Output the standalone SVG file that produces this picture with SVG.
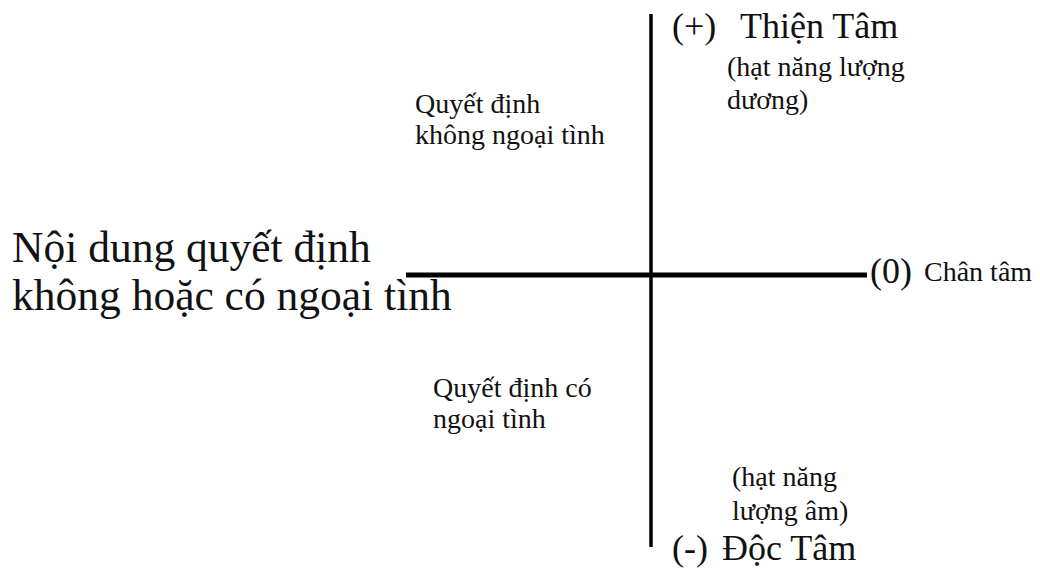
<svg xmlns="http://www.w3.org/2000/svg" width="1040" height="579" viewBox="0 0 1040 579">
<style>
text{font-family:"Liberation Serif","Times New Roman",serif;fill:#111}
.ax{stroke:#000;fill:none}
.big{font-size:43.5px}
.hd{font-size:36px}
.sm{font-size:28px}
</style>
<rect width="1040" height="579" fill="#fff"/>
<g id="connectors">
<line class="ax" x1="651" y1="14" x2="651" y2="547" stroke-width="3.5"/>
<line class="ax" x1="406" y1="275" x2="867" y2="275" stroke-width="5"/>
</g>
<g id="title">
<text class="big" x="12" y="262">Nội dung quyết định</text>
<text class="big" x="12" y="310">không hoặc có ngoại tình</text>
</g>
<g id="top">
<text class="hd" x="672" y="38">(+)</text>
<text class="hd" x="740" y="38">Thiện Tâm</text>
<text class="sm" x="727" y="76">(hạt năng lượng</text>
<text class="sm" x="727" y="109">dương)</text>
</g>
<g id="bottom">
<text class="sm" x="732" y="486">(hạt năng</text>
<text class="sm" x="732" y="520">lượng âm)</text>
<text class="hd" x="672" y="560">(-)</text>
<text class="hd" x="722" y="560">Độc Tâm</text>
</g>
<g id="right">
<text x="870" y="283" font-size="36">(0)</text>
<text class="sm" x="924" y="281">Chân tâm</text>
</g>
<g id="q-upper">
<text class="sm" x="415" y="113">Quyết định</text>
<text class="sm" x="415" y="144">không ngoại tình</text>
</g>
<g id="q-lower">
<text class="sm" x="433" y="397">Quyết định có</text>
<text class="sm" x="433" y="428">ngoại tình</text>
</g>
</svg>
